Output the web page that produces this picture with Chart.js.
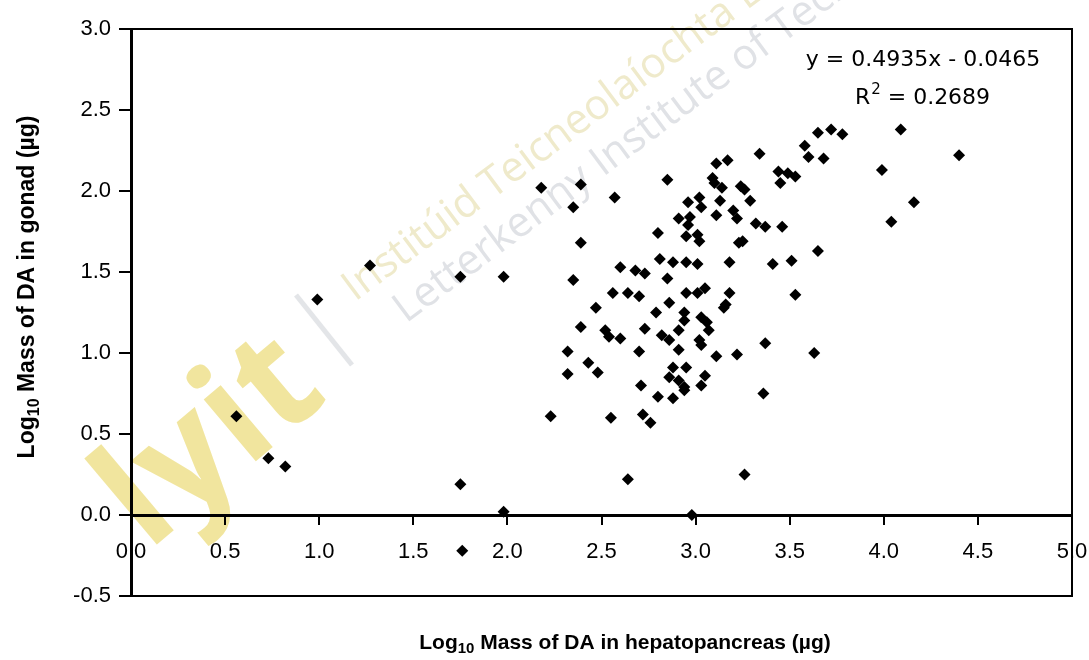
<!DOCTYPE html>
<html>
<head>
<meta charset="utf-8">
<script src="https://cdn.jsdelivr.net/npm/chart.js@4.4.0/dist/chart.umd.min.js"></script>
<style>
html,body{margin:0;padding:0;background:#fff}
#wrap{width:1089px;height:660px;position:relative}
</style>
</head>
<body>
<div id="wrap"><canvas id="chartContainer"></canvas></div>
<script>
// log10 mass of DA in hepatopancreas (x) and in gonad (y)
var hepato = [0.56,0.73,0.82,0.99,1.27,1.75,1.75,1.76,1.98,1.98,2.18,2.23,
  2.39,2.57,2.35,2.39,2.85,2.80,2.35,2.60,2.68,2.73,2.81,2.88,2.95,3.01,2.85,2.56,2.64,2.70,
  2.47,2.86,2.79,2.39,2.52,2.54,2.60,2.73,2.82,2.86,2.91,2.94,2.94,2.91,2.32,2.70,2.43,2.48,
  2.32,2.71,2.80,2.88,2.88,2.95,2.86,2.91,2.94,2.55,2.72,2.76,2.64,2.98,3.26,
  3.65,3.72,3.78,4.09,3.34,3.58,3.60,3.68,3.99,4.16,4.04,4.40,3.11,3.17,3.09,3.10,3.14,3.24,
  3.26,3.44,3.49,3.53,3.45,3.02,2.96,3.03,3.13,3.29,2.91,2.97,2.96,3.11,3.20,3.22,2.95,3.01,
  3.02,3.32,3.37,3.46,3.23,3.25,3.65,3.18,3.41,3.51,2.95,3.01,3.05,3.18,3.16,3.15,3.53,3.03,
  3.06,3.07,3.02,3.03,3.11,3.22,3.37,3.63,3.05,3.03,2.94,3.36]
var gonad = [0.61,0.35,0.30,1.33,1.54,1.47,0.19,-0.22,1.47,0.02,2.02,0.61,
  2.04,1.96,1.90,1.68,2.07,1.74,1.45,1.53,1.51,1.49,1.58,1.56,1.56,1.55,1.46,1.37,1.37,1.35,
  1.28,1.31,1.25,1.16,1.14,1.10,1.09,1.15,1.11,1.08,1.14,1.25,1.20,1.02,1.01,1.01,0.94,0.88,
  0.87,0.80,0.73,0.72,0.91,0.91,0.85,0.83,0.79,0.60,0.62,0.57,0.22,0.00,0.25,
  2.36,2.38,2.35,2.38,2.23,2.28,2.21,2.20,2.13,1.93,1.81,2.22,2.17,2.19,2.08,2.05,2.02,2.03,
  2.01,2.12,2.11,2.09,2.05,1.96,1.93,1.90,1.94,1.94,1.83,1.84,1.79,1.85,1.88,1.83,1.72,1.73,
  1.69,1.80,1.78,1.78,1.68,1.69,1.63,1.56,1.55,1.57,1.37,1.37,1.40,1.37,1.30,1.28,1.36,1.22,
  1.19,1.14,1.08,1.05,0.98,0.99,1.06,1.00,0.86,0.80,0.77,0.75]

var xTitle = [['Log', false], ['10', true], [' Mass of DA in hepatopancreas (\u00b5g)', false]]
var yTitle = [['Log', false], ['10', true], [' Mass of DA in gonad (\u00b5g)', false]]
var eqLine = 'y = 0.4935x - 0.0465'
var r2Line = ['R', '2', ' = 0.2689']

var points = []
for (var i = 0; i < hepato.length; i++) {
  points.push({x: hepato[i], y: gonad[i]})
}

function drawParts(ctx, parts, size) {
  var total = 0
  parts.forEach(function (p) {
    ctx.font = 'bold ' + (p[1] ? Math.round(size * 0.7) : size) + 'px "Liberation Sans", Arial, sans-serif'
    total += ctx.measureText(p[0]).width
  })
  var x = -total / 2
  parts.forEach(function (p) {
    ctx.font = 'bold ' + (p[1] ? Math.round(size * 0.7) : size) + 'px "Liberation Sans", Arial, sans-serif'
    ctx.fillText(p[0], x, p[1] ? size * 0.3 : 0)
    x += ctx.measureText(p[0]).width
  })
}

var extras = {
  id: 'extras',
  beforeDraw: function (chart) {
    var ctx = chart.ctx
    ctx.save()
    ctx.fillStyle = '#fff'
    ctx.fillRect(0, 0, chart.width, chart.height)
    // faint watermark of the scanned page
    ctx.translate(148, 552)
    ctx.rotate(-0.7)
    ctx.fillStyle = '#f1e59e'
    ctx.font = 'bold 148px "Open Sans", sans-serif'
    ctx.fillText('lyit', 0, 0)
    ctx.restore()

    ctx.save()
    ctx.strokeStyle = '#e3e5e8'
    ctx.lineWidth = 5
    ctx.beginPath()
    ctx.moveTo(296, 295)
    ctx.lineTo(352, 365)
    ctx.stroke()
    ctx.translate(355, 302)
    ctx.rotate(-0.64)
    ctx.fillStyle = '#efeacb'
    ctx.font = '42px "Open Sans", sans-serif'
    ctx.fillText('Instit\u00fail Teicneola\u00edochta Leitir Ceanainn'.replace('\u00fail', '\u00faid'), 0, 0)
    ctx.fillStyle = '#e0e2e6'
    ctx.fillText('Letterkenny Institute of Technology', 28, 48)
    ctx.restore()
  },
  afterDraw: function (chart) {
    var ctx = chart.ctx
    var a = chart.chartArea
    ctx.save()
    ctx.strokeStyle = '#000'
    ctx.lineWidth = 2
    ctx.beginPath()
    ctx.moveTo(a.left, a.top)
    ctx.lineTo(a.right, a.top)
    ctx.lineTo(a.right, a.bottom)
    ctx.lineTo(a.left, a.bottom)
    ctx.stroke()

    ctx.fillStyle = '#000'
    ctx.textBaseline = 'middle'
    ctx.textAlign = 'left'
    ctx.save()
    ctx.translate(625, 643)
    drawParts(ctx, xTitle, 21)
    ctx.restore()
    ctx.save()
    ctx.translate(28, 287)
    ctx.rotate(-Math.PI / 2)
    drawParts(ctx, yTitle, 23)
    ctx.restore()

    ctx.font = '22px "DejaVu Sans", sans-serif'
    ctx.textAlign = 'center'
    ctx.fillText(eqLine, 923, 60)
    var w0 = ctx.measureText(r2Line[0]).width
    var w2 = ctx.measureText(r2Line[2]).width
    ctx.font = '15px "DejaVu Sans", sans-serif'
    var w1 = ctx.measureText(r2Line[1]).width
    var sx = 922 - (w0 + w1 + w2) / 2
    ctx.textAlign = 'left'
    ctx.font = '22px "DejaVu Sans", sans-serif'
    ctx.fillText(r2Line[0], sx, 98)
    ctx.font = '15px "DejaVu Sans", sans-serif'
    ctx.fillText(r2Line[1], sx + w0 + 1, 90)
    ctx.font = '22px "DejaVu Sans", sans-serif'
    ctx.fillText(r2Line[2], sx + w0 + w1 + 1, 98)
    ctx.restore()
  }
}

var chart = new Chart(document.getElementById('chartContainer'), {
  type: 'scatter',
  data: {
    datasets: [{
      label: 'gonad vs hepatopancreas',
      data: points,
      pointStyle: 'rectRot',
      pointRadius: 6,
      pointHoverRadius: 6,
      backgroundColor: '#000',
      borderColor: '#000',
      borderWidth: 0
    }]
  },
  options: {
    responsive: true,
    maintainAspectRatio: false,
    animation: false,
    layout: {padding: {top: 29, right: 17, bottom: 64, left: 0}},
    plugins: {legend: {display: false}, tooltip: {enabled: false}},
    scales: {
      x: {
        type: 'linear',
        position: {y: 0},
        min: 0,
        max: 5,
        afterFit: function (s) { s.paddingLeft = 0; s.paddingRight = 0 },
        border: {color: '#000', width: 3},
        grid: {drawOnChartArea: false, drawTicks: true, tickLength: 8, color: '#000', lineWidth: 2},
        ticks: {
          stepSize: 0.5,
          padding: 16,
          color: '#000',
          font: {family: '"Liberation Sans", Arial, sans-serif', size: 22},
          callback: function (v) { return v.toFixed(1) }
        }
      },
      y: {
        type: 'linear',
        min: -0.5,
        max: 3,
        afterFit: function (s) { s.width = 131 },
        border: {color: '#000', width: 3},
        grid: {drawOnChartArea: false, drawTicks: true, tickLength: 12, color: '#000', lineWidth: 2},
        ticks: {
          stepSize: 0.5,
          padding: 8,
          color: '#000',
          font: {family: '"Liberation Sans", Arial, sans-serif', size: 22},
          callback: function (v) { return v.toFixed(1) }
        }
      }
    }
  },
  plugins: [extras]
})
</script>
</body>
</html>
